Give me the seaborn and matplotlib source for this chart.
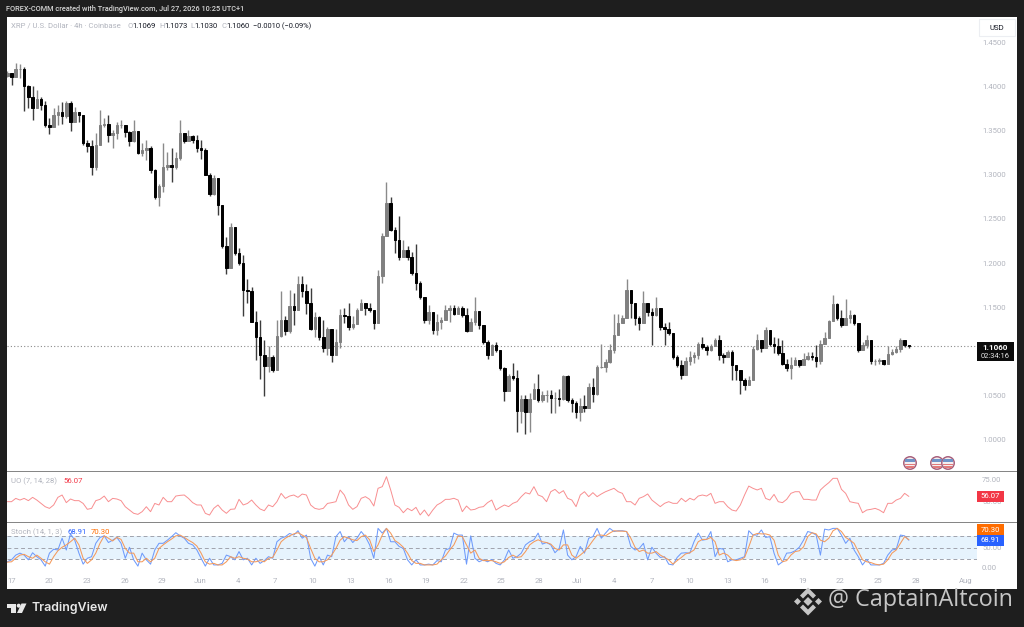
import numpy as np
import pandas as pd
import matplotlib
matplotlib.use("Agg")
import matplotlib.pyplot as plt
import matplotlib.dates as mdates
from matplotlib.patches import Rectangle, Polygon, Ellipse
import seaborn as sns

W, H = 1024, 627

# 8h candles
closes = [
    1.415,1.411,1.420,1.420,1.400,1.388,1.375,1.386,1.379,1.356,1.354,1.368,1.371,1.366,1.381,1.360,1.371,1.368,1.336,1.333,1.309,1.334,1.356,1.358,1.345,1.347,1.356,1.356,1.348,1.338,1.349,1.325,1.328,1.330,1.305,1.275,1.287,1.309,1.311,1.309,1.319,1.347,1.338,
    1.344,1.339,1.330,1.328,1.300,1.278,1.296,1.266,1.219,1.195,1.241,1.211,1.200,1.170,1.168,1.134,1.117,1.096,1.084,1.094,1.079,1.118,1.136,1.123,1.151,1.147,1.177,1.168,1.155,1.126,1.139,1.116,1.104,1.126,1.096,1.111,1.141,1.140,1.128,1.131,1.147,1.155,1.149,
    1.147,1.132,1.185,1.231,1.268,1.238,1.226,1.207,1.215,1.207,1.189,1.178,1.162,1.136,1.145,1.124,1.134,1.136,1.147,1.149,1.143,1.149,1.141,1.123,1.134,1.146,1.130,1.111,1.096,1.107,1.102,1.081,1.055,1.072,1.070,1.033,1.046,1.032,1.046,1.058,1.045,1.051,1.051,
    1.047,1.048,1.046,1.072,1.045,1.042,1.032,1.038,1.036,1.060,1.052,1.083,1.083,1.088,1.102,1.119,1.132,1.138,1.170,1.155,1.138,1.132,1.155,1.145,1.141,1.149,1.128,1.126,1.121,1.094,1.085,1.074,1.089,1.094,1.096,1.109,1.105,1.102,1.106,1.113,1.096,1.094,1.100,
    1.085,1.079,1.068,1.062,1.068,1.103,1.113,1.104,1.124,1.109,1.106,1.098,1.086,1.081,1.085,1.090,1.085,1.092,1.095,1.094,1.089,1.109,1.115,1.135,1.154,1.138,1.130,1.138,1.141,1.132,1.102,1.107,1.113,1.089,1.089,1.090,1.086,1.097,1.099,1.103,1.113,1.107,1.106,
]
highs = [
    1.417,1.415,1.427,1.425,1.422,1.402,1.400,1.396,1.388,1.383,1.364,1.375,1.379,1.382,1.383,1.383,1.377,1.371,1.368,1.339,1.339,1.347,1.373,1.364,1.368,1.351,1.360,1.362,1.356,1.349,1.362,1.343,1.336,1.339,1.332,1.307,1.290,1.336,1.326,1.330,1.326,1.362,1.347,
    1.351,1.345,1.345,1.339,1.330,1.302,1.300,1.295,1.266,1.230,1.246,1.236,1.217,1.209,1.182,1.173,1.146,1.136,1.113,1.106,1.096,1.136,1.168,1.140,1.170,1.166,1.185,1.185,1.177,1.172,1.145,1.140,1.136,1.128,1.119,1.126,1.148,1.149,1.155,1.140,1.149,1.159,1.155,
    1.155,1.145,1.192,1.234,1.292,1.275,1.241,1.253,1.226,1.219,1.213,1.222,1.180,1.162,1.153,1.138,1.142,1.139,1.153,1.153,1.153,1.152,1.151,1.149,1.138,1.162,1.145,1.130,1.113,1.109,1.111,1.096,1.083,1.075,1.087,1.079,1.051,1.051,1.053,1.065,1.075,1.055,1.057,
    1.057,1.054,1.058,1.074,1.074,1.047,1.044,1.048,1.051,1.064,1.070,1.085,1.109,1.092,1.109,1.143,1.143,1.141,1.182,1.170,1.155,1.140,1.168,1.155,1.149,1.162,1.147,1.132,1.134,1.121,1.096,1.091,1.094,1.101,1.099,1.111,1.117,1.107,1.109,1.115,1.119,1.098,1.102,
    1.102,1.083,1.077,1.070,1.072,1.106,1.120,1.113,1.128,1.117,1.117,1.115,1.113,1.092,1.094,1.094,1.090,1.098,1.099,1.100,1.107,1.113,1.122,1.136,1.164,1.155,1.147,1.160,1.147,1.143,1.132,1.111,1.119,1.113,1.092,1.093,1.089,1.106,1.103,1.106,1.115,1.113,1.107,
]
lows = [
    1.411,1.402,1.413,1.409,1.372,1.375,1.362,1.379,1.373,1.354,1.346,1.358,1.356,1.358,1.364,1.350,1.362,1.360,1.334,1.326,1.300,1.305,1.347,1.354,1.337,1.330,1.341,1.353,1.343,1.333,1.337,1.324,1.321,1.317,1.302,1.273,1.265,1.281,1.305,1.292,1.307,1.317,1.336,
    1.339,1.336,1.326,1.318,1.300,1.276,1.277,1.255,1.217,1.188,1.196,1.209,1.198,1.140,1.155,1.133,1.091,1.069,1.050,1.077,1.077,1.091,1.117,1.119,1.121,1.130,1.155,1.162,1.143,1.124,1.117,1.113,1.100,1.096,1.088,1.104,1.104,1.132,1.124,1.126,1.140,1.147,1.141,
    1.145,1.126,1.132,1.178,1.232,1.236,1.212,1.204,1.209,1.204,1.187,1.170,1.160,1.132,1.131,1.120,1.119,1.126,1.139,1.134,1.141,1.144,1.139,1.122,1.124,1.130,1.126,1.109,1.092,1.098,1.100,1.079,1.044,1.066,1.068,1.009,1.019,1.007,1.009,1.047,1.043,1.043,1.043,
    1.031,1.031,1.038,1.045,1.043,1.032,1.025,1.021,1.032,1.036,1.043,1.051,1.081,1.077,1.087,1.098,1.128,1.134,1.138,1.138,1.130,1.124,1.132,1.140,1.108,1.140,1.124,1.108,1.119,1.092,1.083,1.069,1.081,1.085,1.087,1.092,1.103,1.096,1.101,1.106,1.091,1.087,1.094,
    1.068,1.068,1.052,1.057,1.064,1.070,1.102,1.099,1.107,1.106,1.098,1.096,1.085,1.078,1.069,1.086,1.083,1.085,1.090,1.090,1.082,1.086,1.109,1.122,1.136,1.136,1.128,1.130,1.132,1.130,1.100,1.102,1.104,1.086,1.085,1.086,1.085,1.089,1.096,1.098,1.100,1.105,1.104,
]

uo_values = [
    50,50,53.8,51.9,53.8,51.2,55,51.9,48,44.2,42.3,46.2,55,57.7,48.9,53.1,51.2,51.2,48,41.2,42.3,51.2,52.7,56.5,50,53.8,53.1,51.2,44.2,40.4,36.6,35.4,38.5,44.2,38.5,48,46.2,55,50,50,56.5,57.3,57.7,53.8,48.9,46.2,46.2,36.6,34.6,42.3,46.2,40.4,36.6,41.2,41.6,52.7,46.2,48,51.9,46.2,41.6,39.6,46.2,44.2,50,59.6,53.8,56.5,57.7,55,58.8,57.7,46.2,42.3,41.2,42.3,48,48.9,50,63.4,
    57.7,46.2,41.2,44.3,53.9,55.8,52.7,45,65.4,67.3,78.8,63.5,46.2,43.5,37.3,42.3,39.6,43.5,34.7,40.4,33.5,40.4,46.2,48.9,52.7,52.7,53.9,51.9,38.5,45,40.4,41.2,43.5,44.3,48.9,51.9,40.4,43.5,46.2,44.3,48.1,50,55.8,60.4,58.9,67.3,57.7,55.8,50,61.5,64.2,59.6,62.7,53.9,51.9,44.3,57.7,61.5,55.8,60.4,55.8,58.9,61.5,63.5,65.4,61.5,59.6,50,50,46.2,53.9,55.8,58.9,51.9,48.1,44.3,48.1,50,48.1,48.1,53.9,50,53.9,51.9,
    56.5,57.7,56.5,59.6,48.1,50,50,44.2,40.4,39.2,46.2,57.7,68,65.4,63.5,65.4,53.8,51.9,58.4,50,48.9,52.7,59.6,61.5,61.5,52.7,52.7,51.9,51.9,63.5,68,71.9,76.9,76.9,64.2,59.6,50,48.9,48.1,37.3,40.4,41.2,42.3,40.4,37.3,48.1,48.1,51.9,53.8,59.6,56.07,
]

stoch_k = [
    14,19,31,36,31,19,37,27,19,3,36,46,44,74,44,85,69,36,8,23,27,61,76,80,63,69,76,61,23,51,19,3,36,19,8,44,61,61,69,78,88,80,74,61,57,44,23,3,23,6,6,10,31,27,19,40,19,23,6,23,10,17,27,23,65,74,78,86,82,93,74,82,23,3,27,6,31,27,78,91,
    65,78,63,74,91,78,57,23,99,87,99,65,65,53,48,19,6,19,6,6,8,6,17,14,44,48,87,82,82,8,80,23,14,19,14,20,10,6,19,44,23,27,36,57,65,70,87,59,63,57,37,48,95,31,19,27,53,36,74,78,99,74,87,99,91,93,93,91,53,44,48,61,19,51,36,25,27,8,6,25,36,37,36,65,87,
    69,71,91,27,48,46,14,19,19,23,27,93,82,82,95,76,78,36,6,14,36,37,42,51,69,91,88,82,31,97,95,99,99,82,61,74,44,27,6,20,6,6,6,10,31,44,46,82,80,68.91,
]
stoch_d = [
    13,14,23,31,33,27,23,31,23,14,8,27,42,51,57,65,74,57,23,10,19,36,61,80,74,67,76,71,48,36,36,14,14,23,14,23,48,57,65,72,80,82,76,69,63,54,36,14,8,10,6,6,14,27,23,27,23,21,14,14,17,14,23,25,44,65,74,80,85,88,82,76,48,23,14,14,19,31,48,69,
    78,74,70,68,78,82,70,40,57,82,99,87,68,61,51,36,17,10,10,6,6,6,8,19,29,44,57,80,78,57,36,44,23,17,17,17,14,10,14,25,31,25,27,40,57,65,70,65,63,59,48,44,57,57,31,23,31,40,53,68,82,82,80,87,93,92,92,91,74,51,40,44,36,36,40,31,25,19,8,17,25,34,37,44,65,
    71,71,76,65,31,36,31,20,17,19,25,52,82,86,85,85,82,69,31,14,17,31,40,42,52,78,88,85,69,65,74,93,99,91,76,69,61,40,19,14,12,8,6,8,19,36,44,61,78,70.30,
]

price_ticks = [1.00, 1.05, 1.15, 1.20, 1.25, 1.30, 1.35, 1.40, 1.45]
date_ticks = ["2026-05-17", "2026-05-20", "2026-05-23", "2026-05-26", "2026-05-29", "2026-06-01", "2026-06-04",
              "2026-06-07", "2026-06-10", "2026-06-13", "2026-06-16", "2026-06-19", "2026-06-22", "2026-06-25",
              "2026-06-28", "2026-07-01", "2026-07-04", "2026-07-07", "2026-07-10", "2026-07-13", "2026-07-16",
              "2026-07-19", "2026-07-22", "2026-07-25", "2026-07-28", "2026-08-01"]
date_labels = ["17", "20", "23", "26", "29", "Jun", "4", "7", "10", "13", "16", "19", "22", "25", "28", "Jul",
               "4", "7", "10", "13", "16", "19", "22", "25", "28", "Aug"]

last_price = 1.1060
uo_last = 56.07
k_last = 68.91
d_last = 70.30

sns.set_theme(style="white")
plt.rcParams["font.family"] = ["Roboto", "DejaVu Sans"]

GREY_TXT = "#b2b5be"
DARK = "#1e1e1e"

fig = plt.figure(figsize=(W / 100, H / 100), dpi=100, facecolor=DARK)


def box(x0, y0, x1, y1):
    # pixel box, y down, to figure fractions
    return [x0 / W, 1 - y1 / H, (x1 - x0) / W, (y1 - y0) / H]


def label(x, y, s, **kw):
    kw.setdefault("va", "center")
    return fig.text(x / W, 1 - y / H, s, **kw)


def rect(x0, y0, x1, y1, color, **kw):
    r = Rectangle((x0 / W, 1 - y1 / H), (x1 - x0) / W, (y1 - y0) / H, transform=fig.transFigure,
                  facecolor=color, linewidth=kw.pop("linewidth", 0), **kw)
    fig.add_artist(r)
    return r


def poly(points, color):
    p = [(x / W, 1 - y / H) for x, y in points]
    fig.add_artist(Polygon(p, closed=True, transform=fig.transFigure, facecolor=color, linewidth=0))


rect(7, 17, 1017, 589, "white", zorder=-1)

ax_price = fig.add_axes(box(7, 17, 977, 471))
ax_uo = fig.add_axes(box(7, 472, 977, 522))
ax_stoch = fig.add_axes(box(7, 523, 977, 572))

dates = pd.date_range("2026-05-16 16:00", periods=len(closes), freq="483min")
xnum = mdates.date2num(dates)
x0 = mdates.date2num(pd.Timestamp("2026-05-17")) + (7 - 11.5) / 12.56
x1 = mdates.date2num(pd.Timestamp("2026-05-17")) + (977 - 11.5) / 12.56

# candles, open is the previous close
closes_arr = np.array(closes)
opens_arr = np.r_[1.412, closes_arr[:-1]]
up = closes_arr >= opens_arr
col_up = "#808080"
col_down = "#000000"
wick_cols = np.where(up, "#8a8a8a", "#3c3c3c")
ax_price.vlines(xnum, lows, highs, colors=wick_cols, linewidth=1.0, zorder=2)
ax_price.bar(xnum[up], (closes_arr - opens_arr)[up], bottom=opens_arr[up], width=0.2, color=col_up,
             edgecolor=col_up, linewidth=0.7, zorder=3)
ax_price.bar(xnum[~up], (opens_arr - closes_arr)[~up], bottom=closes_arr[~up], width=0.2, color=col_down,
             edgecolor=col_down, linewidth=0.7, zorder=3)
ax_price.axhline(last_price, color="#8a8a8a", linewidth=0.8, linestyle=(0, (1, 2)), zorder=1)
ax_price.set_ylim(0.9649, 1.4785)
ax_price.set_yticks(price_ticks)
ax_price.set_yticklabels([f"{t:.4f}" for t in price_ticks])

sns.lineplot(x=xnum, y=uo_values, ax=ax_uo, color="#f88e90", linewidth=0.7, estimator=None)
ax_uo.set_ylim(26.6, 84.2)
ax_uo.set_yticks([50, 75])
ax_uo.set_yticklabels(["50.00", "75.00"])

ax_stoch.axhspan(20, 80, color="#e6f3fd", linewidth=0, zorder=0)
for lev in [20, 50, 80]:
    ax_stoch.axhline(lev, color="#a0a3ad", linewidth=0.7, linestyle=(0, (4, 3)), zorder=1)
sns.lineplot(x=xnum, y=stoch_k, ax=ax_stoch, color="#6f9bfb", linewidth=0.75, estimator=None, zorder=3)
sns.lineplot(x=xnum, y=stoch_d, ax=ax_stoch, color="#f49a5c", linewidth=0.75, estimator=None, zorder=4)
ax_stoch.set_ylim(-12, 112.7)
ax_stoch.set_yticks([0, 50])
ax_stoch.set_yticklabels(["0.00", "50.00"])

tick_pos = mdates.date2num(pd.to_datetime(date_ticks))
for ax in [ax_price, ax_uo, ax_stoch]:
    ax.set_xlim(x0, x1)
    ax.patch.set_alpha(0)
    ax.grid(False)
    for sp in ax.spines.values():
        sp.set_visible(False)
    ax.yaxis.tick_right()
    ax.tick_params(axis="y", length=0, pad=3.6, labelsize=5.6, labelcolor=GREY_TXT)
    ax.set_xticks([])
ax_stoch.set_xticks(tick_pos)
ax_stoch.set_xticklabels(date_labels)
ax_stoch.tick_params(axis="x", length=0, pad=4, labelsize=5.6, labelcolor=GREY_TXT)

# pane dividers
rect(7, 470.5, 1017, 472, "#868686")
rect(7, 521.5, 1017, 523, "#868686")

# price pane tags
rect(977, 342, 1014, 361, "#0b0b0b", zorder=5)
label(995.5, 347, "1.1060", color="white", ha="center", fontsize=5.8, fontweight="bold", zorder=6)
label(995.5, 356, "02:34:16", color="#e8e8e8", ha="center", fontsize=5.4, zorder=6)
rect(979, 19, 1015, 36, "white", edgecolor="#eceef2", linewidth=0.8, zorder=5)
label(990, 28, "USD", color="#131722", ha="left", fontsize=5.6, zorder=6)

rect(977, 491, 1004, 502, "#f23645", zorder=5)
label(990.5, 496.5, f"{uo_last:.2f}", color="white", ha="center", fontsize=5.6, zorder=6)
rect(977, 524, 1004, 535, "#ff6d00", zorder=5)
label(990.5, 529.5, f"{d_last:.2f}", color="white", ha="center", fontsize=5.6, zorder=6)
rect(977, 535, 1004, 546, "#2962ff", zorder=5)
label(990.5, 540.5, f"{k_last:.2f}", color="white", ha="center", fontsize=5.6, zorder=6)

# header and legends
label(6, 9, "FOREX-COMM created with TradingView.com, Jul 27, 2026 10:25 UTC+1", color="#d6d6d6", fontsize=5.35, fontweight="medium")
label(11, 26, "XRP / U.S. Dollar · 4h · Coinbase", color=GREY_TXT, fontsize=5.6)
for x, key, val in [(127, "O", "1.1069"), (159, "H", "1.1073"), (190, "L", "1.1030"), (221, "C", "1.1060")]:
    label(x, 26, key, color=GREY_TXT, fontsize=5.5)
    label(x + 5.5 if key != "L" else x + 4.5, 26, val, color="#131722", fontsize=5.5)
label(253, 26, "−0.0010 (−0.09%)", color="#131722", fontsize=5.4)
label(11, 481, "UO (7, 14, 28)", color=GREY_TXT, fontsize=5.6)
label(63, 481, f"{uo_last:.2f}", color="#f23645", fontsize=5.6)
label(11, 532, "Stoch (14, 1, 3)", color=GREY_TXT, fontsize=5.6)
label(68, 532, f"{k_last:.2f}", color="#2962ff", fontsize=5.6)
label(91, 532, f"{d_last:.2f}", color="#ff6d00", fontsize=5.6)

# event flags
for fx in [910, 937, 948]:
    fy = 463
    fig.add_artist(Ellipse((fx / W, 1 - fy / H), 14 / W, 14 / H, transform=fig.transFigure, facecolor="#a8607c", linewidth=0))
    fig.add_artist(Ellipse((fx / W, 1 - fy / H), 11 / W, 11 / H, transform=fig.transFigure, facecolor="#f3eef0", linewidth=0))
    rect(fx - 5, fy - 4, fx + 5, fy - 1, "#6f94c8")
    rect(fx - 5, fy + 1, fx + 5, fy + 2.2, "#e27a7a")
    rect(fx - 4, fy + 3.4, fx + 4, fy + 4.6, "#e27a7a")

# TradingView logo
LOGO = "#e8e8e8"
poly([(7, 603.5), (15.5, 603.5), (15.5, 613), (11, 613), (11, 607.5), (7, 607.5)], LOGO)
fig.add_artist(Ellipse((18.7 / W, 1 - 605.7 / H), 4 / W, 4 / H, transform=fig.transFigure, facecolor=LOGO, linewidth=0))
poly([(21.5, 603.5), (26.5, 603.5), (22, 613), (17, 613)], LOGO)
label(31, 608, "TradingView", color=LOGO, fontsize=8.9, fontweight="semibold", family=["Inter", "DejaVu Sans"])

# watermark
MARK = "#c6c6c6"
cx, cy = 808, 601.5
poly([(cx, cy - 4.5), (cx + 4.5, cy), (cx, cy + 4.5), (cx - 4.5, cy)], MARK)
poly([(cx - 14, cy), (cx - 10.5, cy - 3.5), (cx - 7, cy), (cx - 10.5, cy + 3.5)], MARK)
poly([(cx + 14, cy), (cx + 10.5, cy - 3.5), (cx + 7, cy), (cx + 10.5, cy + 3.5)], MARK)
poly([(cx, cy - 14), (cx + 8, cy - 6), (cx + 5, cy - 3), (cx, cy - 8), (cx - 5, cy - 3), (cx - 8, cy - 6)], MARK)
poly([(cx, cy + 14), (cx + 8, cy + 6), (cx + 5, cy + 3), (cx, cy + 8), (cx - 5, cy + 3), (cx - 8, cy + 6)], MARK)
label(828, 600, "@ CaptainAltcoin", color=MARK, fontsize=16.8, family=["Open Sans", "DejaVu Sans"])

fig.savefig("out.png", dpi=100, facecolor=DARK)
